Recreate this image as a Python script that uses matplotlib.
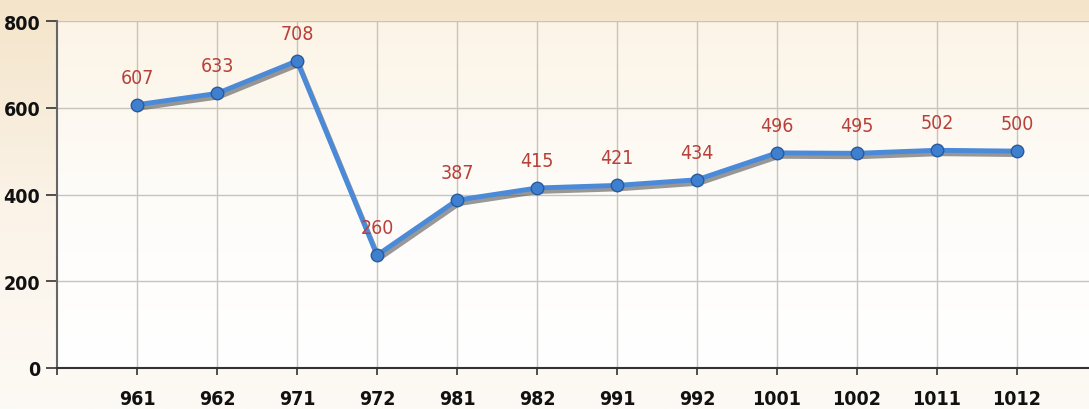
import numpy as np
import matplotlib
matplotlib.use("Agg")
import matplotlib.pyplot as plt
import matplotlib.patheffects as pe
from matplotlib import font_manager

# datos
categorias = ["961", "962", "971", "972", "981", "982", "991", "992",
              "1001", "1002", "1011", "1012"]
valores = [607, 633, 708, 260, 387, 415, 421, 434, 496, 495, 502, 500]

fuentes = sorted({(f.name, f.stretch, f.weight) for f in font_manager.fontManager.ttflist
                  if f.stretch != "normal" or "Narrow" in f.name or "Condensed" in f.name})
print("[INFO] fuentes estrechas:", fuentes)

nombres = {f.name for f in font_manager.fontManager.ttflist}
fuente = "Liberation Sans Narrow" if "Liberation Sans Narrow" in nombres else "DejaVu Sans"
estiramiento = "normal" if fuente == "Liberation Sans Narrow" else "condensed"

fig = plt.figure(figsize=(10.89, 4.10), dpi=100)

# fondo de la figura (degradado beige)
bg = fig.add_axes([0, 0, 1, 1], zorder=-10)
grad = np.linspace(0, 1, 256)[:, None]
cmap_bg = matplotlib.colors.LinearSegmentedColormap.from_list(
    "bg", ["#f4e4c9", "#fbf3e8", "#fdfaf5"])
bg.imshow(grad, aspect="auto", cmap=cmap_bg, extent=[0, 1, 0, 1], origin="upper")
bg.axis("off")

ax = fig.add_axes([57 / 1089, 1 - 369 / 410, 1 - 57 / 1089, (369 - 22) / 410])
ax.set_xlim(0, 12.9)
ax.set_ylim(0, 800)

cmap_ax = matplotlib.colors.LinearSegmentedColormap.from_list(
    "ax", ["#fcf4e6", "#fefcf9", "#ffffff"])
ax.imshow(grad, aspect="auto", cmap=cmap_ax, extent=[0, 12.9, 0, 800],
          origin="upper", zorder=0)

x = np.arange(1, len(categorias) + 1)

# rejilla
for xv in x:
    ax.axvline(xv, color="#c8c4bc", lw=1.0, zorder=1)
for yv in [200, 400, 600, 800]:
    ax.axhline(yv, color="#c8c4bc", lw=1.0, zorder=1)

# linea con sombra, marcadores aparte
ax.plot(x, valores, color="#4a8ad8", lw=3.5, zorder=3, solid_capstyle="round",
        path_effects=[pe.SimpleLineShadow(offset=(1.5, -2.5), shadow_color="#555555", alpha=0.6),
                      pe.Normal()])
ax.plot(x, valores, ls="none", marker="o", ms=9,
        markerfacecolor="#3f7fd0", markeredgecolor="#2a5a9a", markeredgewidth=1, zorder=4)

for xi, v in zip(x, valores):
    ax.annotate(str(v), (xi, v), xytext=(0, 13), textcoords="offset points",
                ha="center", va="bottom", color="#b8403a", fontsize=14,
                family=fuente, fontstretch=estiramiento, zorder=5)

for s in ["top", "right"]:
    ax.spines[s].set_visible(False)
ax.spines["left"].set_color("#666666")
ax.spines["bottom"].set_color("#333333")
ax.spines["left"].set_linewidth(1.5)
ax.spines["bottom"].set_linewidth(1.5)

ax.set_xticks(np.concatenate([[0], x]))
ax.set_xticklabels([""] + categorias)
ax.set_yticks([0, 200, 400, 600, 800])
ax.tick_params(axis="x", length=5, width=1.2, color="#333333", pad=10)
ax.tick_params(axis="y", length=8, width=1.2, color="#333333", pad=4)
for lab in ax.get_xticklabels() + ax.get_yticklabels():
    lab.set_family(fuente)
    lab.set_fontstretch(estiramiento)
    lab.set_fontweight("bold")
    lab.set_fontsize(14)
    lab.set_color("#111111")

fig.savefig("out.png", dpi=100)
